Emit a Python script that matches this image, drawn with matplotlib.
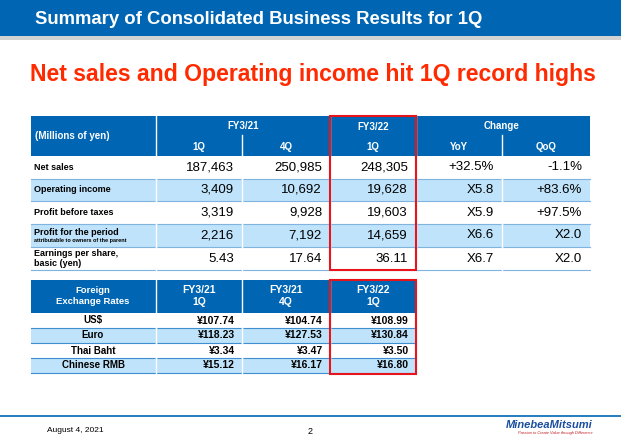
import matplotlib
matplotlib.use("Agg")
import matplotlib.pyplot as plt
from matplotlib.patches import Rectangle

title = "Summary of Consolidated Business Results for 1Q"
subtitle = "Net sales and Operating income hit 1Q record highs"
row_labels = ["Net sales", "Operating income", "Profit before taxes", "Profit for the period", "Earnings per share,\nbasic (yen)"]
fy21_1q = ["187,463", "3,409", "3,319", "2,216", "5.43"]
fy21_4q = ["250,985", "10,692", "9,928", "7,192", "17.64"]
fy22_1q = ["248,305", "19,628", "19,603", "14,659", "36.11"]
yoy = ["+32.5%", "X5.8", "X5.9", "X6.6", "X6.7"]
qoq = ["-1.1%", "+83.6%", "+97.5%", "X2.0", "X2.0"]
fx_labels = ["US$", "Euro", "Thai Baht", "Chinese RMB"]
fx_21_1q = ["¥107.74", "¥118.23", "¥3.34", "¥15.12"]
fx_21_4q = ["¥104.74", "¥127.53", "¥3.47", "¥16.17"]
fx_22_1q = ["¥108.99", "¥130.84", "¥3.50", "¥16.80"]

BLUE = "#0066B3"
LIGHT = "#BFE3FA"
RED = "#E8141B"
FONT = "Liberation Sans"
plt.rcParams["font.family"] = FONT

fig = plt.figure(figsize=(6.21, 4.38), dpi=100)
ax = fig.add_axes([0, 0, 1, 1])
ax.set_xlim(0, 621); ax.set_ylim(438, 0); ax.axis("off")

def rect(x0, y0, x1, y1, fc, ec="none", lw=0, z=1):
    ax.add_patch(Rectangle((x0, y0), x1 - x0, y1 - y0, facecolor=fc, edgecolor=ec, lw=lw, zorder=z))

# header bar
rect(0, 0, 621, 36, BLUE)
rect(0, 36, 621, 40, "#D3D3D3")
ax.text(35, 19, title, color="white", fontsize=13.3, fontweight="bold", va="center")
ax.text(30, 74, subtitle, color="#FF2A00", fontsize=16.6, fontweight="bold", va="center")

# main table
cols = [31, 156, 242, 330, 416, 502, 590]
rect(31, 116, 590, 156, BLUE)
for x in [156, 330, 416]:
    ax.plot([x, x], [116, 156], color="white", lw=1, zorder=2)
for x in [242, 502]:
    ax.plot([x, x], [135, 156], color="white", lw=1, zorder=2)
hk = dict(color="white", fontsize=7, fontweight="bold", va="center")
ax.text(35, 136, "(Millions of yen)", **hk)
ax.text(243, 126, "FY3/21", ha="center", **hk)
ax.text(373, 127, "FY3/22", ha="center", **hk)
ax.text(502, 126, "Change", ha="center", **hk)
for i, s in enumerate(["1Q", "4Q", "1Q", "YoY", "QoQ"]):
    ax.text((cols[i + 1] + cols[i + 2]) / 2, 147, s, ha="center", **hk)

row_y = [156, 179, 201, 224, 247, 270]
for r, lab in enumerate(row_labels):
    y0, y1 = row_y[r], row_y[r + 1]
    if r % 2 == 1:
        rect(31, y0, 590, y1, LIGHT)
    ax.plot([31, 590], [y1, y1], color="#7FB3E0", lw=0.8, zorder=2)
    for x in cols[1:-1]:
        ax.plot([x, x], [y0, y1], color="white", lw=1, zorder=2)
    yc = (y0 + y1) / 2
    if r == 3:
        ax.text(34, yc - 3, lab, fontsize=6.5, fontweight="bold", va="center")
        ax.text(34, yc + 5, "attributable to owners of the parent", fontsize=4, fontweight="bold", va="center")
    else:
        ax.text(34, yc, lab, fontsize=6.5, fontweight="bold", va="center", linespacing=1.1)
    for c, arr in enumerate([fy21_1q, fy21_4q, fy22_1q, yoy, qoq]):
        ax.text(cols[c + 2] - 8, yc, arr[r], fontsize=9.5, va="center", ha="right")
rect(330, 116, 416, 270, "none", RED, 1.5, 5)

# FX table
rect(31, 280, 416, 313, BLUE)
for x in [156, 242, 330]:
    ax.plot([x, x], [280, 313], color="white", lw=1, zorder=2)
ax.text(93, 296, "Foreign\nExchange Rates", color="white", fontsize=6.8, fontweight="bold", ha="center", va="center", linespacing=1.2)
for x0, x1, s in [(156, 242, "FY3/21\n1Q"), (242, 330, "FY3/21\n4Q"), (330, 416, "FY3/22\n1Q")]:
    ax.text((x0 + x1) / 2, 296, s, color="white", fontsize=7.5, fontweight="bold", ha="center", va="center", linespacing=1.3)
fy = [313, 328, 343, 358, 373]
for r, lab in enumerate(fx_labels):
    y0, y1 = fy[r], fy[r + 1]
    if r % 2 == 1:
        rect(31, y0, 416, y1, LIGHT)
    ax.plot([31, 416], [y1, y1], color="#3F8FD0", lw=0.8, zorder=2)
    for x in [156, 242, 330]:
        ax.plot([x, x], [y0, y1], color="white", lw=1, zorder=2)
    yc = (y0 + y1) / 2
    ax.text(93, yc, lab, fontsize=7, fontweight="bold", ha="center", va="center")
    for c, arr in enumerate([fx_21_1q, fx_21_4q, fx_22_1q]):
        ax.text([242, 330, 416][c] - 7, yc, arr[r], fontsize=7.5, fontweight="bold", ha="right", va="center")
rect(330, 280, 416, 374, "none", RED, 1.5, 5)

# footer
ax.plot([0, 621], [416, 416], color=BLUE, lw=1.2)
ax.text(47, 430, "August 4, 2021", fontsize=6, va="center")
ax.text(310, 432, "2", fontsize=6.5, va="center", ha="center")
ax.text(593, 425, "MinebeaMitsumi", fontsize=8, fontweight="bold", style="italic", color="#1A4FA0", ha="right", va="center")
ax.text(593, 433, "Passion to Create Value through Difference", fontsize=2.8, style="italic", color="#C0141B", ha="right", va="center")

fig.savefig("out.png", dpi=100)
